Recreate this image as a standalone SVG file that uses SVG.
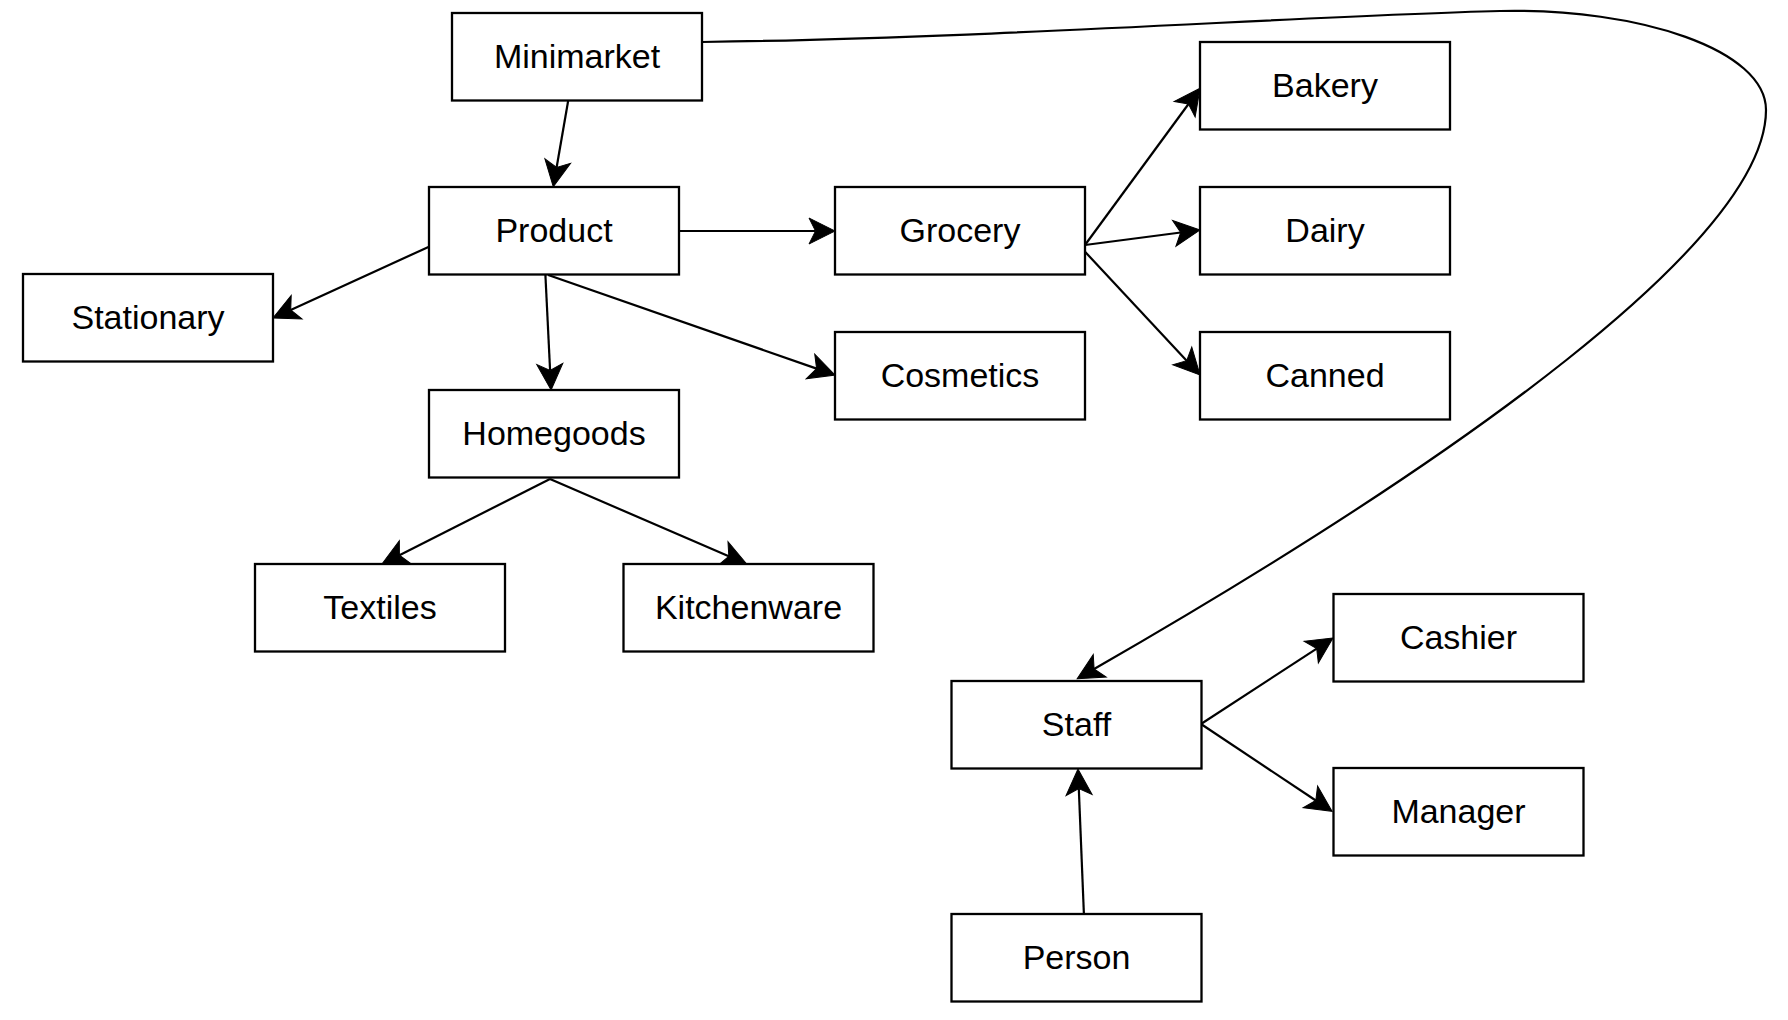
<svg xmlns="http://www.w3.org/2000/svg" width="1788" height="1020" viewBox="0 0 1788 1020">
<style>
.node rect { fill: #ffffff; stroke: #000000; stroke-width: 2.3; }
.node text { font-family: "Liberation Sans", Arial, Helvetica, sans-serif; font-size: 34px; fill: #000000; text-anchor: middle; }
.edge { fill: none; stroke: #000000; stroke-width: 2.2; marker-end: url(#arrow); }
</style>
<defs>
<marker id="arrow" markerUnits="userSpaceOnUse" markerWidth="60" markerHeight="60" viewBox="-30 -30 60 60" refX="0" refY="0" orient="auto" overflow="visible">
<path d="M19.5,0 L-6.5,-13 L0,0 L-6.5,13 Z" fill="#000000" stroke="#000000" stroke-width="1" stroke-linejoin="miter"/>
</marker>
</defs>
<rect x="0" y="0" width="1788" height="1020" fill="#ffffff"/>
<g id="connectors">
<path class="edge" d="M568.3,100 L556.6,167.5"/>
<path class="edge" d="M679,231 L815.5,231"/>
<path class="edge" d="M429,246.7 L290.7,309.9"/>
<path class="edge" d="M545.4,275 L550.1,370.5"/>
<path class="edge" d="M548.2,275 L816.6,368.6"/>
<path class="edge" d="M1085,245 L1188.5,104"/>
<path class="edge" d="M1085,245 L1180.7,232.5"/>
<path class="edge" d="M1085,251.7 L1186.7,360.7"/>
<path class="edge" d="M550,479 L399.4,555.2"/>
<path class="edge" d="M550,479 L728.8,556.3"/>
<path class="edge" d="M1201,724 L1316.7,648.6"/>
<path class="edge" d="M1201,724 L1315.8,800.5"/>
<path class="edge" d="M1083.9,914 L1078.8,788.5"/>
<path class="edge" d="M702,42 C1000,38 1300,16 1500,11 C1640,8 1766,50 1766,110 C1766,240 1459.4,459 1094.1,669"/>
</g>
<g id="node-minimarket" class="node"><rect x="452" y="13" width="250" height="87.5"/><text x="577" y="68">Minimarket</text></g>
<g id="node-product" class="node"><rect x="429" y="187" width="250" height="87.5"/><text x="554" y="242">Product</text></g>
<g id="node-stationary" class="node"><rect x="23" y="274" width="250" height="87.5"/><text x="148" y="329">Stationary</text></g>
<g id="node-homegoods" class="node"><rect x="429" y="390" width="250" height="87.5"/><text x="554" y="445">Homegoods</text></g>
<g id="node-grocery" class="node"><rect x="835" y="187" width="250" height="87.5"/><text x="960" y="242">Grocery</text></g>
<g id="node-cosmetics" class="node"><rect x="835" y="332" width="250" height="87.5"/><text x="960" y="387">Cosmetics</text></g>
<g id="node-bakery" class="node"><rect x="1200" y="42" width="250" height="87.5"/><text x="1325" y="97">Bakery</text></g>
<g id="node-dairy" class="node"><rect x="1200" y="187" width="250" height="87.5"/><text x="1325" y="242">Dairy</text></g>
<g id="node-canned" class="node"><rect x="1200" y="332" width="250" height="87.5"/><text x="1325" y="387">Canned</text></g>
<g id="node-textiles" class="node"><rect x="255" y="564" width="250" height="87.5"/><text x="380" y="619">Textiles</text></g>
<g id="node-kitchenware" class="node"><rect x="623.5" y="564" width="250" height="87.5"/><text x="748.5" y="619">Kitchenware</text></g>
<g id="node-staff" class="node"><rect x="951.5" y="681" width="250" height="87.5"/><text x="1076.5" y="736">Staff</text></g>
<g id="node-cashier" class="node"><rect x="1333.5" y="594" width="250" height="87.5"/><text x="1458.5" y="649">Cashier</text></g>
<g id="node-manager" class="node"><rect x="1333.5" y="768" width="250" height="87.5"/><text x="1458.5" y="823">Manager</text></g>
<g id="node-person" class="node"><rect x="951.5" y="914" width="250" height="87.5"/><text x="1076.5" y="969">Person</text></g>
</svg>
